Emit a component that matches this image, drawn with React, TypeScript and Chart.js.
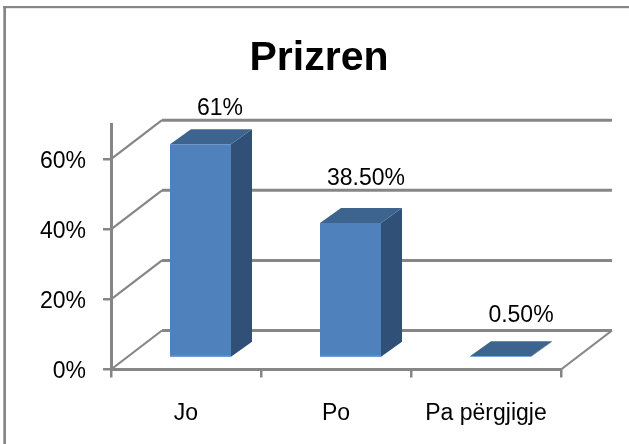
import React, { useEffect, useRef } from "react";
import { Chart, registerables } from "chart.js";

Chart.register(...registerables);

const categories = ["Jo", "Po", "Pa përgjigje"];
const values = [0.61, 0.385, 0.005];
const valueLabels = ["61%", "38.50%", "0.50%"];
const yTicks = [0, 0.2, 0.4, 0.6];
const chartTitle = "Prizren";

const labelOffsets = [
  [19.5, -36],
  [15.5, -44],
  [20.5, -41],
];

const FLOOR = { dx: 51, dy: -39 };
const BAR_SHIFT = { dx: 14.5, dy: -11.5 };
const BAR_DEPTH = { dx: 21, dy: -15 };
const GRID = "#868686";
const FONT = "'Liberation Sans', Arial, sans-serif";

const wall3d = {
  id: "wall3d",
  afterLayout(chart: any) {
    // let the value-axis labels reach past the narrow axis box
    chart.scales.y.left = 10;
  },
  beforeDatasetsDraw(chart: any) {
    const { ctx } = chart;
    const x = chart.scales.x;
    const y = chart.scales.y;
    const left = x.left;
    const right = x.right;
    const line = (a: number, b: number, c: number, d: number, w: number) => {
      ctx.beginPath();
      ctx.moveTo(a, b);
      ctx.lineTo(c, d);
      ctx.lineWidth = w;
      ctx.strokeStyle = GRID;
      ctx.stroke();
    };
    ctx.save();
    yTicks.forEach((t) => {
      const p = y.getPixelForValue(t);
      line(left, p, left + FLOOR.dx, p + FLOOR.dy, 2.2);
      line(left + FLOOR.dx, p + FLOOR.dy, right + FLOOR.dx, p + FLOOR.dy, 3);
    });
    const p0 = y.getPixelForValue(0);
    line(right, p0, right + FLOOR.dx, p0 + FLOOR.dy, 2.2);
    ctx.restore();

    const meta = chart.getDatasetMeta(0);
    ctx.save();
    meta.data.forEach((bar: any) => {
      const w = bar.width;
      const xr = bar.x + w / 2 + BAR_SHIFT.dx;
      const xl = bar.x - w / 2 + BAR_SHIFT.dx;
      const top = bar.y + BAR_SHIFT.dy;
      const base = bar.base + BAR_SHIFT.dy;
      ctx.fillStyle = "#315078";
      ctx.beginPath();
      ctx.moveTo(xr, top);
      ctx.lineTo(xr + BAR_DEPTH.dx, top + BAR_DEPTH.dy);
      ctx.lineTo(xr + BAR_DEPTH.dx, base + BAR_DEPTH.dy);
      ctx.lineTo(xr, base);
      ctx.closePath();
      ctx.fill();
      ctx.fillStyle = "#3C648F";
      ctx.beginPath();
      ctx.moveTo(xl, top);
      ctx.lineTo(xl + BAR_DEPTH.dx, top + BAR_DEPTH.dy);
      ctx.lineTo(xr + BAR_DEPTH.dx, top + BAR_DEPTH.dy);
      ctx.lineTo(xr, top);
      ctx.closePath();
      ctx.fill();
    });
    ctx.restore();
  },
  beforeDatasetDraw(chart: any) {
    chart.ctx.save();
    chart.ctx.translate(BAR_SHIFT.dx, BAR_SHIFT.dy);
  },
  afterDatasetDraw(chart: any) {
    chart.ctx.restore();
  },
  afterDatasetsDraw(chart: any) {
    const { ctx } = chart;
    const meta = chart.getDatasetMeta(0);
    ctx.save();
    ctx.fillStyle = "#000000";
    ctx.font = `23px ${FONT}`;
    ctx.textAlign = "center";
    ctx.textBaseline = "middle";
    meta.data.forEach((bar: any, i: number) => {
      ctx.fillText(
        valueLabels[i],
        bar.x + BAR_SHIFT.dx + labelOffsets[i][0],
        bar.y + BAR_SHIFT.dy + labelOffsets[i][1]
      );
    });
    ctx.restore();
  },
};

const framePlugin = {
  id: "frame",
  beforeDraw(chart: any) {
    const { ctx, width, height } = chart;
    ctx.save();
    ctx.fillStyle = "#ffffff";
    ctx.fillRect(0, 0, width, height);
    ctx.fillStyle = GRID;
    ctx.fillRect(3.3, 6, 2.7, height - 6);
    ctx.fillRect(3.3, 6, width - 3.3, 2.2);
    ctx.restore();
  },
};

export default function App() {
  const ref = useRef<HTMLCanvasElement>(null);
  useEffect(() => {
    const chart = new Chart(ref.current as HTMLCanvasElement, {
      type: "bar",
      data: {
        labels: categories,
        datasets: [
          {
            data: values,
            backgroundColor: ["#4F81BD", "#4F81BD", "#6C9BD8"],
            borderColor: "#6C9BD8",
            borderWidth: { top: 0, left: 0, right: 0, bottom: 1.5 },
            borderSkipped: false,
            barThickness: 61,
            clip: false as any,
          },
        ],
      },
      plugins: [framePlugin, wall3d],
      options: {
        animation: false,
        responsive: false,
        layout: { padding: { left: 77, right: 68, top: 0, bottom: 0 } },
        plugins: {
          legend: { display: false },
          tooltip: { enabled: false },
          title: {
            display: true,
            text: chartTitle,
            color: "#000000",
            font: { family: FONT, size: 41, weight: "bold", lineHeight: 1.2 },
            padding: { top: 34, bottom: 41 },
          },
        },
        scales: {
          x: {
            grid: {
              display: true,
              drawOnChartArea: false,
              drawTicks: true,
              tickLength: 8,
              color: GRID,
              lineWidth: 2.5,
            },
            border: { color: GRID, width: 3 },
            ticks: {
              color: "#000000",
              font: { family: FONT, size: 23 },
              padding: 22,
              maxRotation: 0,
              autoSkip: false,
            },
            afterFit: (s: any) => {
              s.height = 74.5;
            },
          },
          y: {
            min: 0,
            max: 0.7,
            afterBuildTicks: (s: any) => {
              s.ticks = yTicks.map((value) => ({ value }));
            },
            grid: {
              display: true,
              drawOnChartArea: false,
              drawTicks: true,
              tickLength: 8,
              color: GRID,
              lineWidth: 2.5,
            },
            border: { color: GRID, width: 3 },
            ticks: {
              color: "#000000",
              font: { family: FONT, size: 23 },
              padding: 17,
              labelOffset: 2,
              callback: (v: any) => `${Math.round(Number(v) * 100)}%`,
            },
            afterFit: (s: any) => {
              s.width = 34;
            },
          },
        },
      },
    } as any);
    return () => chart.destroy();
  }, []);
  return (
    <div style={{ position: "fixed", left: 0, top: 0, width: 629, height: 444 }}>
      <canvas ref={ref} width={629} height={444} style={{ display: "block" }} />
    </div>
  );
}
